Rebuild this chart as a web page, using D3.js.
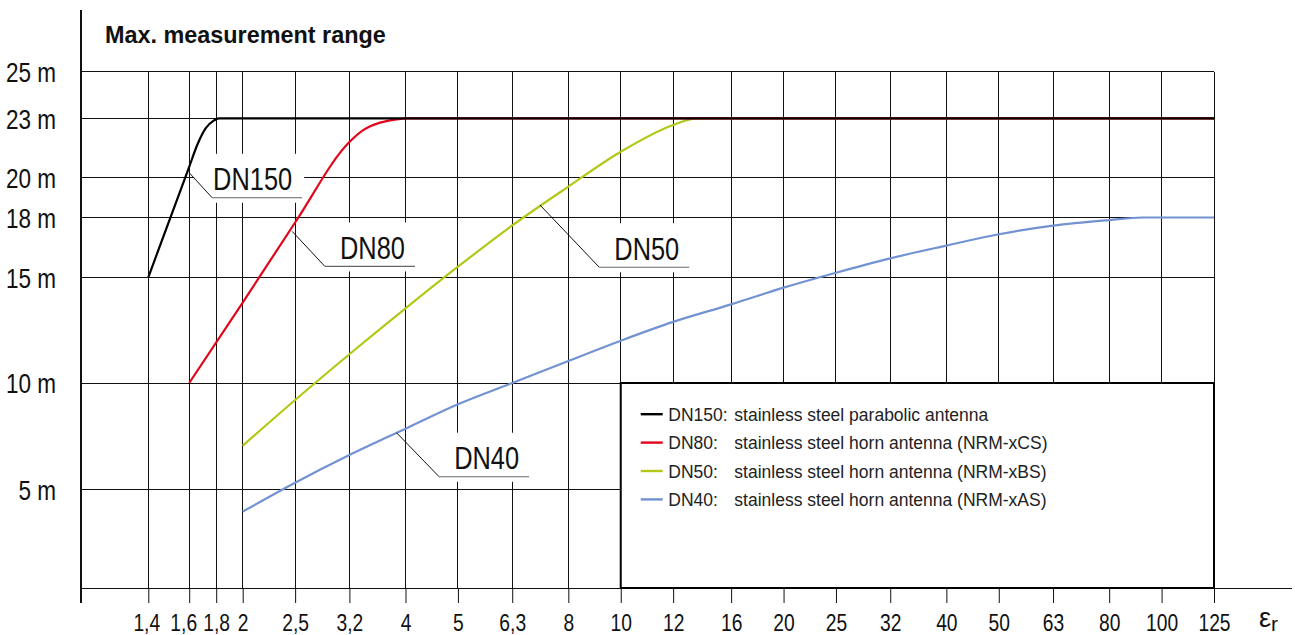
<!DOCTYPE html>
<html><head><meta charset="utf-8">
<script src="https://cdn.jsdelivr.net/npm/d3@7"></script>
<style>
html,body{margin:0;padding:0;background:#fff;overflow:hidden}
svg{display:block}
.narrow{font-family:"Liberation Sans",Arial,Helvetica,sans-serif}
.reg{font-family:"Liberation Sans",Arial,Helvetica,sans-serif}
</style></head><body>
<svg id="chart" width="1295" height="635"></svg>
<script>
// ---------- data ----------
const xTickValues = [1.4,1.6,1.8,2,2.5,3.15,4,5,6.3,8,10,12.5,16,20,25,31.5,40,50,63,80,100,125];
const xTickLabels = ["1,4","1,6","1,8","2","2,5","3,2","4","5","6,3","8","10","12","16","20","25","32","40","50","63","80","100","125"];
const yTickValues = [5,10,15,18,20,23,25];
const yTickLabels = ["5 m","10 m","15 m","18 m","20 m","23 m","25 m"];

const seriesNames = ["DN150","DN80","DN50","DN40"];
const seriesDescriptions = [
  "stainless steel parabolic antenna",
  "stainless steel horn antenna (NRM-xCS)",
  "stainless steel horn antenna (NRM-xBS)",
  "stainless steel horn antenna (NRM-xAS)"
];
// [epsilon_r, max range in m]
const dn150 = [[1.4,15],[1.6,20.55],[1.66,21.7],[1.72,22.5],[1.78,22.88],[1.82,23],[125,23]];
const dn80  = [[1.6,10],[2,13.8],[2.5,17.75],[3.15,21.8],[3.34,22.4],[3.59,22.78],[3.85,22.95],[4.05,23],[125,23]];
const dn50  = [[2,7.05],[2.5,9.2],[3.15,11.36],[4,13.53],[5,15.53],[6.3,17.6],[8,19.55],[10,21.31],[12.5,22.66],[13.8,23],[125,23]];
const dn40  = [[2,3.87],[2.5,5.31],[3.15,6.61],[4,7.85],[5,9.0],[6.3,10.0],[8,11.04],[10,12.0],[12.5,12.89],[16,13.72],[20,14.51],[25,15.23],[31.5,15.95],[40,16.59],[50,17.16],[63,17.59],[80,17.87],[92,18],[125,18]];
// label anchors on the curves [epsilon_r, m]
const labelAnchors = [[1.6,20.25],[2.47,17.3],[7.09,18.63],[3.85,7.66]];

// ---------- layout / style ----------
const colors = ["#000000","#e3061b","#b3c816","#7292d2"];
const condensed = 0.82;
const plotLeft = 81, plotRight = 1214;
const xBreaks = [1.4,1.6,1.8,2,125];
const xBreakPx = [148.3,189.2,216.2,242.7,1214];
const yBreaks = [0,5,10,15,18,20,23,25];
const yBreakPx = [588,489.3,383,277.3,217.5,177.7,118.3,71.7];
const labelOffsets = [[23,25],[32.7,35],[59.3,62.3],[42.6,44]];
const xLabelNudge = {"1,4":-2, "1,6":-6};

const svg = d3.select("#chart");
const xs = d3.scaleLinear().domain(xBreaks.map(Math.log10)).range(xBreakPx);
const X = e => xs(Math.log10(e));
const Y = d3.scaleLinear().domain(yBreaks).range(yBreakPx);
const plotTop = Y(25), plotBottom = Y(0);

const grid = svg.append("g").attr("stroke","#111").attr("stroke-width",1).attr("shape-rendering","crispEdges");
// left axis line
grid.append("line").attr("x1",plotLeft).attr("x2",plotLeft).attr("y1",10).attr("y2",plotBottom+15).attr("stroke-width",1.5);
// horizontal gridlines
yTickValues.forEach(v=>{
  grid.append("line").attr("x1",plotLeft).attr("x2", v===5 ? X(10) : plotRight)
    .attr("y1",Y(v)).attr("y2",Y(v));
});
// baseline
grid.append("line").attr("x1",plotLeft).attr("x2",1292).attr("y1",plotBottom).attr("y2",plotBottom);
// vertical gridlines
xTickValues.forEach(v=>{
  const y2 = (v<=10 || v===125) ? plotBottom : Y(10);
  grid.append("line").attr("x1",X(v)).attr("x2",X(v)).attr("y1",plotTop).attr("y2",y2);
});
// legend frame
svg.append("rect").attr("x",X(10)).attr("y",Y(10)).attr("width",plotRight-X(10)).attr("height",plotBottom-Y(10))
  .attr("fill","none").attr("stroke","#000").attr("stroke-width",2);

// x axis (ticks + labels)
const xAxis = d3.axisBottom(xs).tickValues(xTickValues.map(Math.log10))
  .tickFormat((d,i)=>xTickLabels[i]).tickSize(15).tickSizeOuter(0).tickPadding(11);
const gx = svg.append("g").attr("transform",`translate(0,${plotBottom})`).call(xAxis);
gx.select(".domain").remove();
gx.selectAll(".tick line").attr("stroke","#111");
gx.selectAll("text").attr("class","narrow").attr("font-size",23.5).attr("fill","#111")
  .attr("x",(d,i)=>(xLabelNudge[xTickLabels[i]]||0)/condensed)
  .attr("transform",`scale(${condensed},1)`);

// y axis labels
const yAxis = d3.axisLeft(Y).tickValues(yTickValues).tickFormat((d,i)=>yTickLabels[i]).tickSize(0).tickPadding(25);
const gy = svg.append("g").attr("transform",`translate(${plotLeft},0)`).call(yAxis);
gy.select(".domain").remove();
gy.selectAll("text").attr("class","narrow").attr("font-size",27.5).attr("fill","#111").attr("dy","0.36em")
  .attr("x",-25/condensed).attr("transform",`scale(${condensed},1)`);

// title
svg.append("text").attr("class","reg").attr("x",105).attr("y",42.5).attr("font-size",23.4)
  .attr("font-weight","bold").attr("fill","#111").text("Max. measurement range");

// epsilon_r
const er = svg.append("text").attr("class","narrow").attr("transform","translate(1259,627)").attr("font-size",27).attr("fill","#111");
er.append("tspan").text("ε");
er.append("tspan").attr("font-size",21).attr("dy",4).text("r");

// label backgrounds (interrupt grid)
const labelGeom = labelAnchors.map((a,i)=>{
  const ax = X(a[0]), ay = Y(a[1]);
  const ex = ax + labelOffsets[i][0], ey = ay + labelOffsets[i][1];
  return {ax, ay, ex, ey, end: ex + 90};
});
labelGeom.forEach(g=>{
  svg.append("rect").attr("x",g.ex-18).attr("y",g.ey-44).attr("width",g.end+2-(g.ex-18)).attr("height",49).attr("fill","#fff");
});

// curves
const line = d3.line().x(d=>X(d[0])).y(d=>Y(d[1])).curve(d3.curveMonotoneX);
const series = [dn150,dn80,dn50,dn40];
[3,2,1,0].forEach(i=>{
  svg.append("path").datum(series[i]).attr("d",line).attr("fill","none")
    .attr("stroke",colors[i]).attr("stroke-width",2.2).attr("stroke-linejoin","round");
});

// label leaders + text
labelGeom.forEach((g,i)=>{
  svg.append("line").attr("x1",g.ax).attr("y1",g.ay).attr("x2",g.ex).attr("y2",g.ey).attr("stroke","#111").attr("stroke-width",1);
  svg.append("line").attr("x1",g.ex).attr("y1",g.ey).attr("x2",g.end).attr("y2",g.ey).attr("stroke","#666").attr("stroke-width",1.2);
  svg.append("text").attr("class","narrow").attr("transform",`translate(${g.end-10},${g.ey-7.7}) scale(${condensed},1)`)
    .attr("text-anchor","end").attr("font-size",31).attr("fill","#111").text(seriesNames[i]);
});

// legend
const lg = svg.append("g").attr("transform",`translate(${X(10)},${Y(10)})`);
seriesNames.forEach((n,i)=>{
  const by = 37.7 + i*28.4;
  lg.append("line").attr("x1",20).attr("x2",42).attr("y1",by-6.5).attr("y2",by-6.5).attr("stroke",colors[i]).attr("stroke-width",2.4);
  lg.append("text").attr("class","reg").attr("x",47.6).attr("y",by).attr("font-size",17.5).attr("fill","#222").text(n+":");
  lg.append("text").attr("class","reg").attr("x",113.6).attr("y",by).attr("font-size",17.5).attr("fill","#222").text(seriesDescriptions[i]);
});
</script>
</body></html>
